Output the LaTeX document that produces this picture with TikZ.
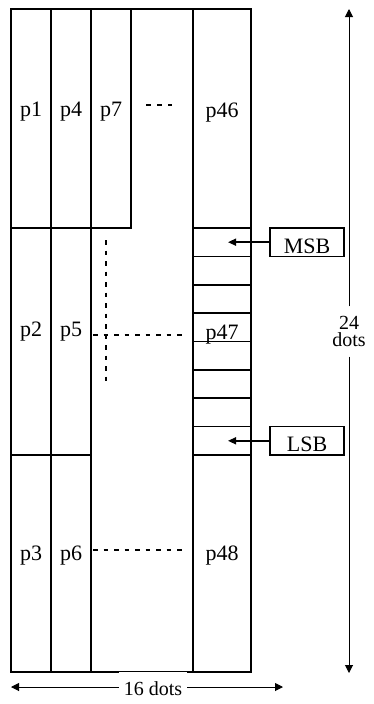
\documentclass[tikz,border=0pt]{standalone}
\usepackage{fontspec}
\setmainfont{Liberation Serif}
\usetikzlibrary{arrows.meta}
\begin{document}
\begin{tikzpicture}[x=1pt,y=-1pt,
  cell/.style={draw, line width=1.7pt, inner sep=0pt, outer sep=0pt},
  lbl/.style={font=\fontsize{22}{20}\selectfont, inner sep=0pt},
  dimlbl/.style={font=\fontsize{20}{17.4}\selectfont, inner sep=0pt, fill=white},
  dotline/.style={line width=1.6pt, dash pattern=on 4.5pt off 6pt},
  dimarrow/.style={line width=1pt, -{Triangle[length=8pt,width=8pt]}},
  ptr/.style={line width=1.4pt, -{Triangle[length=8pt,width=7pt]}}]
\useasboundingbox (0,0) rectangle (373,704);
% column A
\node[cell, minimum width=40pt, minimum height=219pt] (c1) at (31,118.5) {};
\node[cell, minimum width=40pt, minimum height=227pt] (c2) at (31,341.5) {};
\node[cell, minimum width=40pt, minimum height=217pt] (c3) at (31,563.5) {};
% column B
\node[cell, minimum width=40pt, minimum height=219pt] (c4) at (71,118.5) {};
\node[cell, minimum width=40pt, minimum height=227pt] (c5) at (71,341.5) {};
\node[cell, minimum width=40pt, minimum height=217pt] (c6) at (71,563.5) {};
% column C
\node[cell, minimum width=40pt, minimum height=219pt] (c7) at (111,118.5) {};
% last column
\node[cell, minimum width=58pt, minimum height=219pt] (c46) at (222,118.5) {};
\foreach \k in {1,...,8}
  \node[cell, minimum width=58pt, minimum height=28.375pt] (b\k) at (222,{228+14.1875+(\k-1)*28.375}) {};
\node[cell, minimum width=58pt, minimum height=217pt] (c48) at (222,563.5) {};
% middle open region
\draw[line width=1.7pt] (c7.north east) -- (c46.north west);
\draw[line width=1.7pt] (c6.south east) -- (c48.south west);
% labels
\node[lbl] (t1) at (31,112) {p1};
\node[lbl] (t4) at (71,112) {p4};
\node[lbl] (t7) at (111,112) {p7};
\node[lbl] (t46) at (222,112.5) {p46};
\node[lbl] (t2) at (31,332) {p2};
\node[lbl] (t5) at (71,332) {p5};
\node[lbl] (t47) at (222,334.5) {p47};
\node[lbl] (t3) at (31,556) {p3};
\node[lbl] (t6) at (71,556) {p6};
\node[lbl] (t48) at (222,556) {p48};
% dotted continuation marks
\draw[line width=1.4pt, dash pattern=on 4.5pt off 6.5pt] (146,105) -- (172,105);
\draw[dotline] (106,240) -- (106,385);
\draw[dotline] (93,335) -- (185,335);
\draw[dotline] (93,550) -- (185,550);
% MSB / LSB
\node[cell, lbl, text height=22pt, text depth=0pt, minimum width=74pt, minimum height=28.375pt] (msb) at (307,242.1875) {MSB};
\node[cell, lbl, text height=22pt, text depth=0pt, minimum width=74pt, minimum height=28.375pt] (lsb) at (307,440.8125) {LSB};
\coordinate (msbtip) at (228,242.1875);
\coordinate (lsbtip) at (228,440.8125);
\draw[ptr] (msb) -- (msbtip);
\draw[ptr] (lsb) -- (lsbtip);
% vertical dimension
\coordinate (vtop) at (349,9);
\coordinate (vbot) at (349,673);
\node[dimlbl, align=center, minimum height=50pt] (vlab) at (349,331.5) {24\\dots};
\draw[dimarrow] (vlab) -- (vtop);
\draw[dimarrow] (vlab) -- (vbot);
% horizontal dimension
\coordinate (hl) at (11,687);
\coordinate (hr) at (283,687);
\node[dimlbl, minimum width=68pt, minimum height=32.4pt] (hlab) at (153,688.2) {16 dots};
\draw[dimarrow] (hlab.west |- hl) -- (hl);
\draw[dimarrow] (hlab.east |- hr) -- (hr);
\end{tikzpicture}
\end{document}
